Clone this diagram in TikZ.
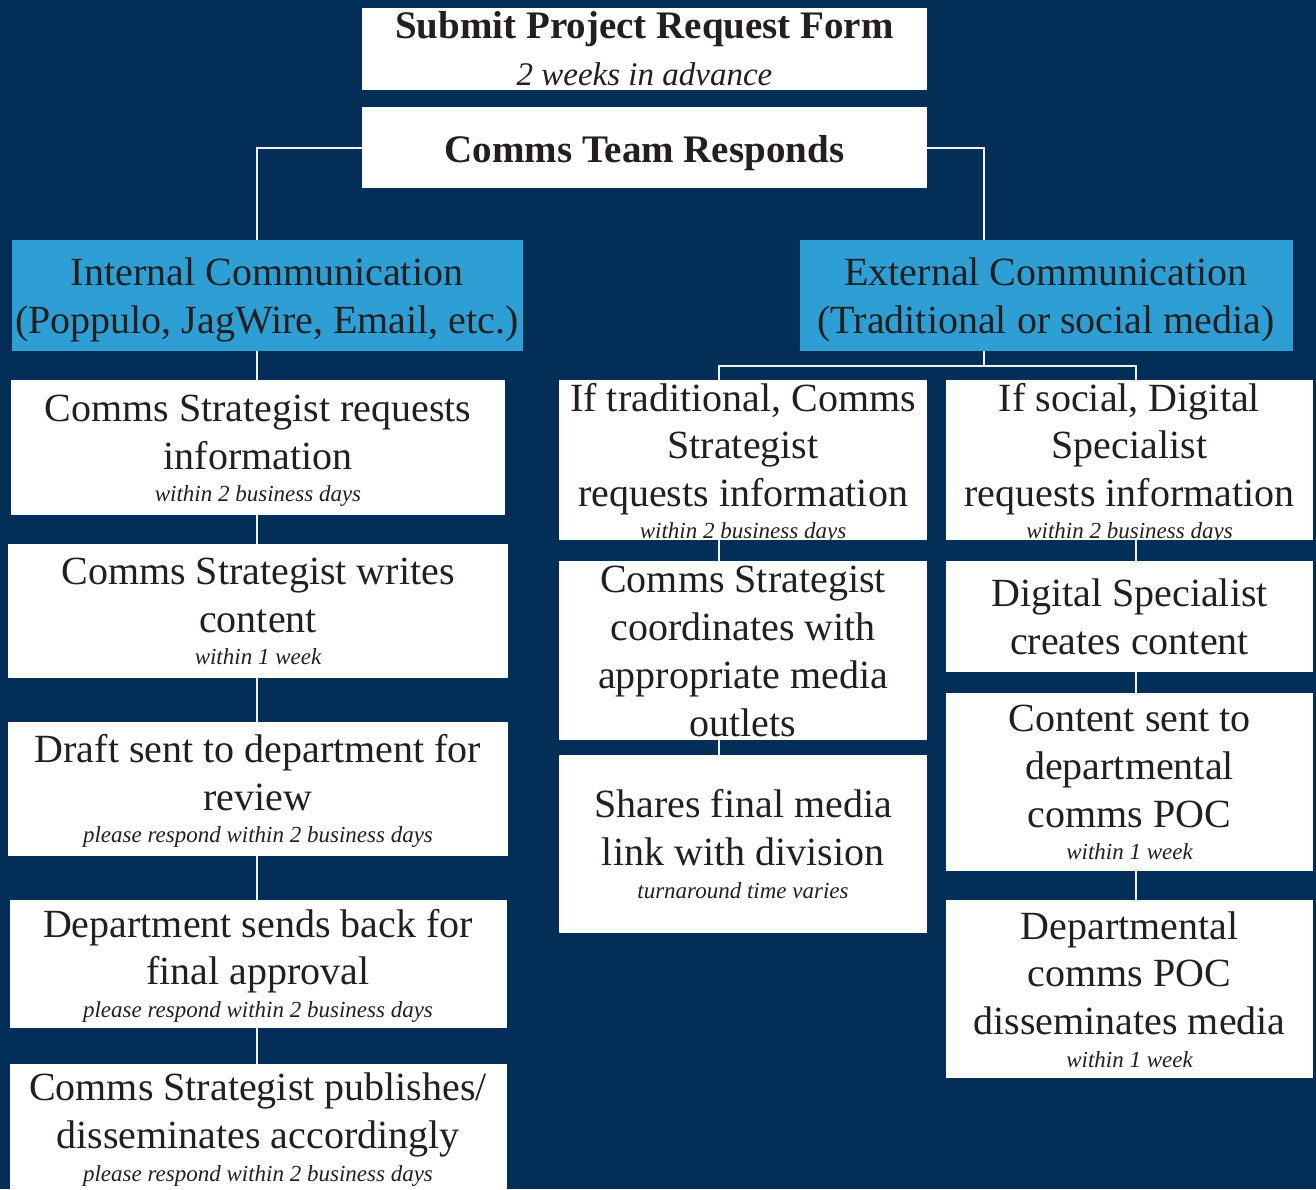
\documentclass[tikz,border=0pt]{standalone}
\usepackage{fontspec}
\setmainfont{Liberation Serif}
\definecolor{bg}{HTML}{022E57}
\definecolor{cyanbox}{HTML}{2E9FD4}
\definecolor{ink}{HTML}{231F20}
\definecolor{wire}{HTML}{EEF1F4}
\tikzset{
  wbox/.style={fill=white, draw=none, inner sep=0pt, outer sep=0pt},
  cbox/.style={fill=cyanbox, draw=none, inner sep=0pt, outer sep=0pt},
  maintxt/.style={anchor=base, inner sep=0pt, text=ink, font=\fontsize{40}{48}\selectfont},
  bluetxt/.style={anchor=base, inner sep=0pt, text=ink, font=\fontsize{40}{48}\selectfont},
  boldtxt/.style={anchor=base, inner sep=0pt, text=ink, font=\fontsize{39}{46}\selectfont\bfseries},
  smalltxt/.style={anchor=base, inner sep=0pt, text=ink, font=\fontsize{23}{28}\selectfont\itshape},
  wirestyle/.style={draw=wire, line width=2pt}
}
\begin{document}
\begin{tikzpicture}[x=1pt,y=-1pt]
\fill[bg] (0,0) rectangle (1316,1189);
\useasboundingbox (0,0) rectangle (1316,1189);
\clip (0,0) rectangle (1316,1189);

% coordinates for connector columns
\coordinate (lx) at (257,0);
\coordinate (mx) at (719,0);
\coordinate (rx) at (1136,0);
\coordinate (ex) at (984,0);
\coordinate (split) at (984,366);

% boxes
\node[wbox, minimum width=565pt, minimum height=82pt] (sub) at (644.5,49) {};
\node[wbox, minimum width=565pt, minimum height=81pt] (ctr) at (644.5,147.5) {};
\node[cbox, minimum width=511pt, minimum height=111pt] (int) at (267.5,295.5) {};
\node[cbox, minimum width=493pt, minimum height=111pt] (ext) at (1046.5,295.5) {};
\node[wbox, minimum width=494pt, minimum height=135pt] (l1) at (258,447.5) {};
\node[wbox, minimum width=500pt, minimum height=134pt] (l2) at (258,611) {};
\node[wbox, minimum width=500pt, minimum height=134pt] (l3) at (258,789) {};
\node[wbox, minimum width=497pt, minimum height=128pt] (l4) at (258.5,964) {};
\node[wbox, minimum width=497pt, minimum height=136pt] (l5) at (258.5,1132) {};
\node[wbox, minimum width=368pt, minimum height=160pt] (m1) at (743,460) {};
\node[wbox, minimum width=368pt, minimum height=179pt] (m2) at (743,650.5) {};
\node[wbox, minimum width=368pt, minimum height=178pt] (m3) at (743,844) {};
\node[wbox, minimum width=367pt, minimum height=160pt] (r1) at (1129.5,460) {};
\node[wbox, minimum width=367pt, minimum height=111pt] (r2) at (1129.5,616.5) {};
\node[wbox, minimum width=367pt, minimum height=178pt] (r3) at (1129.5,782) {};
\node[wbox, minimum width=367pt, minimum height=178pt] (r4) at (1129.5,989) {};

% connectors
\draw[wirestyle] (ctr.west) -| (int.north -| lx);
\draw[wirestyle] (ctr.east) -| (ext.north -| ex);
\draw[wirestyle] (int.south -| lx) -- (l1.north -| lx);
\draw[wirestyle] (l1.south -| lx) -- (l2.north -| lx);
\draw[wirestyle] (l2.south -| lx) -- (l3.north -| lx);
\draw[wirestyle] (l3.south -| lx) -- (l4.north -| lx);
\draw[wirestyle] (l4.south -| lx) -- (l5.north -| lx);
\draw[wirestyle] (ext.south -| ex) -- (split);
\draw[wirestyle] (m1.north -| mx) |- (split) -| (r1.north -| rx);
\draw[wirestyle] (m1.south -| mx) -- (m2.north -| mx);
\draw[wirestyle] (m2.south -| mx) -- (m3.north -| mx);
\draw[wirestyle] (r1.south -| rx) -- (r2.north -| rx);
\draw[wirestyle] (r2.south -| rx) -- (r3.north -| rx);
\draw[wirestyle] (r3.south -| rx) -- (r4.north -| rx);

% texts
\node[boldtxt] (suba) at (644.5,38) {Submit Project Request Form};
\node[anchor=base, inner sep=0pt, text=ink, font=\fontsize{33}{40}\selectfont\itshape] (subb) at (644.5,85) {2 weeks in advance};
\node[boldtxt] (ctra) at (644.5,162) {Comms Team Responds};

\node[bluetxt] (inta) at (267,285) {Internal Communication};
\node[bluetxt] (intb) at (267,333) {(Poppulo, JagWire, Email, etc.)};
\node[bluetxt] (exta) at (1046,285) {External Communication};
\node[bluetxt] (extb) at (1046,333) {(Traditional or social media)};

\node[maintxt] (l1a) at (258,421) {Comms Strategist requests};
\node[maintxt] (l1b) at (258,469) {information};
\node[smalltxt] (l1c) at (258,501) {within 2 business days};

\node[maintxt] (l2a) at (258,584) {Comms Strategist writes};
\node[maintxt] (l2b) at (258,632) {content};
\node[smalltxt] (l2c) at (258,664) {within 1 week};

\node[maintxt] (l3a) at (258,762) {Draft sent to department for};
\node[maintxt] (l3b) at (258,810) {review};
\node[smalltxt] (l3c) at (258,842) {please respond within 2 business days};

\node[maintxt] (l4a) at (258,937) {Department sends back for};
\node[maintxt] (l4b) at (258,984) {final approval};
\node[smalltxt] (l4c) at (258,1017) {please respond within 2 business days};

\node[maintxt] (l5a) at (258,1100) {Comms Strategist publishes/};
\node[maintxt] (l5b) at (258,1148) {disseminates accordingly};
\node[smalltxt] (l5c) at (258,1181) {please respond within 2 business days};

\node[maintxt] (m1a) at (743,411) {If traditional, Comms};
\node[maintxt] (m1b) at (743,458) {Strategist};
\node[maintxt] (m1c) at (743,506) {requests information};
\node[smalltxt] (m1d) at (743,538) {within 2 business days};

\node[maintxt] (m2a) at (743,592) {Comms Strategist};
\node[maintxt] (m2b) at (743,640) {coordinates with};
\node[maintxt] (m2c) at (743,688) {appropriate media};
\node[maintxt] (m2d) at (743,736) {outlets};

\node[maintxt] (m3a) at (743,817) {Shares final media};
\node[maintxt] (m3b) at (743,865) {link with division};
\node[smalltxt] (m3c) at (743,898) {turnaround time varies};

\node[maintxt] (r1a) at (1129.5,411) {If social, Digital};
\node[maintxt] (r1b) at (1129.5,458) {Specialist};
\node[maintxt] (r1c) at (1129.5,506) {requests information};
\node[smalltxt] (r1d) at (1129.5,538) {within 2 business days};

\node[maintxt] (r2a) at (1129.5,606) {Digital Specialist};
\node[maintxt] (r2b) at (1129.5,654) {creates content};

\node[maintxt] (r3a) at (1129.5,731) {Content sent to};
\node[maintxt] (r3b) at (1129.5,779) {departmental};
\node[maintxt] (r3c) at (1129.5,827) {comms POC};
\node[smalltxt] (r3d) at (1129.5,859) {within 1 week};

\node[maintxt] (r4a) at (1129.5,939) {Departmental};
\node[maintxt] (r4b) at (1129.5,986) {comms POC};
\node[maintxt] (r4c) at (1129.5,1034) {disseminates media};
\node[smalltxt] (r4d) at (1129.5,1067) {within 1 week};
\end{tikzpicture}
\end{document}
